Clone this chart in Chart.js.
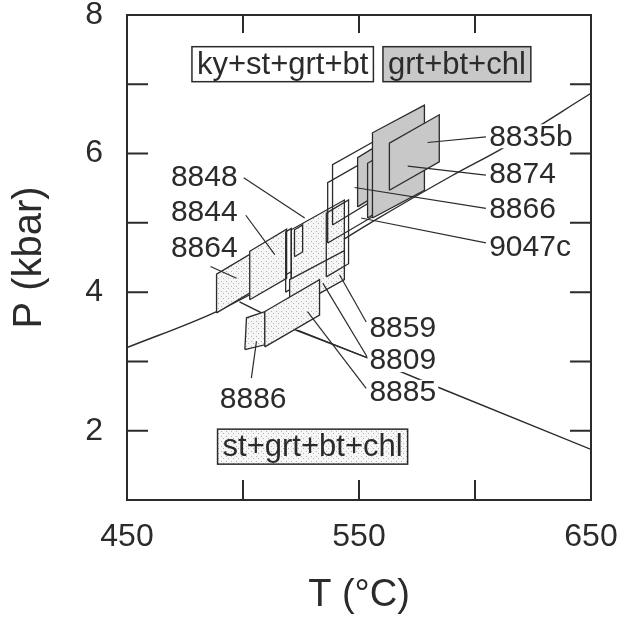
<!DOCTYPE html>
<html>
<head>
<meta charset="utf-8">
<script src="https://cdn.jsdelivr.net/npm/chart.js@4/dist/chart.umd.min.js"></script>
<style>
  html, body { margin: 0; padding: 0; background: #fff; }
</style>
</head>
<body>
<canvas id="pt" width="637" height="620"></canvas>
<script>
// ---- axes ----
const tTickLabels = [450, 550, 650];
const pTickLabels = [2, 4, 6, 8];
const tTickMarks = [500, 550, 600];
const pTickMarks = [2, 3, 4, 5, 6, 7];

// ---- reaction curves (T in C, P in kbar) ----
const riseT = [450, 488.6, 520, 556, 590, 612, 650];
const riseP = [3.2, 3.72, 4.28, 5.02, 5.68, 6.08, 6.87];
const fallT = [498.5, 523, 553.7, 584.6, 650];
const fallP = [3.86, 3.45, 3.05, 2.62, 1.73];

// ---- sample P-T boxes: corners bottom-left, bottom-right, top-right, top-left ----
const boxNames = ["8864", "8844", "8848", "n1", "n2", "8859", "8886", "8885",
                  "m", "9047c", "8866", "a", "b", "8874", "8835b"];
const boxT = [
  [488.6, 508.1, 508.1, 488.6],
  [502.9, 518.8, 518.8, 502.9],
  [520.8, 543.7, 543.7, 520.8],
  [518.4, 520.8, 520.8, 518.4],
  [522.2, 525.7, 525.7, 522.2],
  [520.1, 543.7, 543.7, 520.1],
  [500.8, 509.4, 509.4, 501.5],
  [509.4, 533.0, 533.0, 509.4],
  [535.9, 545.5, 545.5, 535.9],
  [536.5, 561.0, 561.0, 536.5],
  [538.6, 563.1, 563.1, 538.6],
  [549.4, 561.0, 561.0, 549.4],
  [553.7, 563.1, 563.1, 553.7],
  [555.8, 578.2, 578.2, 555.8],
  [563.1, 584.6, 584.6, 563.1]
];
const boxP = [
  [3.70, 4.09, 4.65, 4.26],
  [3.89, 4.20, 4.91, 4.59],
  [3.99, 4.36, 5.33, 4.90],
  [4.00, 4.05, 4.92, 4.87],
  [4.51, 4.58, 4.97, 4.90],
  [3.74, 4.18, 4.60, 4.18],
  [3.17, 3.24, 3.72, 3.63],
  [3.21, 3.67, 4.18, 3.72],
  [4.22, 4.41, 5.33, 5.14],
  [4.71, 5.19, 6.05, 5.58],
  [4.97, 5.47, 6.30, 5.84],
  [5.23, 5.47, 6.18, 5.94],
  [5.07, 5.26, 6.05, 5.86],
  [5.07, 5.47, 6.70, 6.30],
  [5.47, 5.88, 6.56, 6.15]
];

// ---- sample labels and leader lines ----
const sampleText = ["8848", "8844", "8864", "8886", "8859", "8809", "8885",
                    "8835b", "8874", "8866", "9047c"];
const leaderFromT = [500.3, 501.2, 486.0, 503.6, 553.1, 553.8, 553.8, 553.1, 604.7, 604.7, 604.7, 604.7];
const leaderFromP = [5.65, 5.11, 4.37, 2.76, 3.57, 3.05, 3.05, 2.61, 6.24, 5.69, 5.21, 4.71];
const leaderToT = [526.6, 513.7, 497.2, 505.8, 541.6, 534.4, 523.7, 527.8, 579.6, 571.0, 548.1, 550.9];
const leaderToP = [5.07, 4.54, 4.20, 3.29, 4.25, 4.13, 3.45, 3.72, 6.16, 5.82, 5.51, 5.07];

// ---- assemblage fields ----
const fieldText = ["ky+st+grt+bt", "grt+bt+chl", "st+grt+bt+chl"];

// =====================================================================

const INK = "#2b2b2b";
const FONT = "'Liberation Sans', Arial, Helvetica, sans-serif";
const DARK = "#c8c8c8";

function makeStipple() {
    const c = document.createElement("canvas");
    c.width = 5; c.height = 5;
    const g = c.getContext("2d");
    g.fillStyle = "#f6f6f6";
    g.fillRect(0, 0, 5, 5);
    g.fillStyle = "#b4b4b4";
    g.fillRect(1, 1, 1, 1);
    g.fillRect(3, 3, 1, 1);
    return g.createPattern(c, "repeat");
}
const STIP = makeStipple();

const darkBoxes = ["a", "b", "8874", "8835b"];
const openBoxes = ["9047c", "8866", "n1", "n2", "m"];

const toPts = (T, P) => T.map((t, i) => ({ x: t, y: P[i] }));

const datasets = [];

datasets.push({
    data: toPts(riseT, riseP), showLine: true, borderColor: INK, borderWidth: 1.4,
    pointRadius: 0, fill: false, cubicInterpolationMode: "monotone"
});
datasets.push({
    data: toPts(fallT, fallP), showLine: true, borderColor: INK, borderWidth: 1.4,
    pointRadius: 0, fill: false, tension: 0
});

boxNames.forEach((name, i) => {
    const T = boxT[i].concat(boxT[i][0]);
    const P = boxP[i].concat(boxP[i][0]);
    let bg = STIP, fill = "shape";
    if (darkBoxes.includes(name)) bg = DARK;
    if (openBoxes.includes(name)) { bg = "rgba(0,0,0,0)"; fill = false; }
    datasets.push({
        data: toPts(T, P), showLine: true, borderColor: INK, borderWidth: 1.3,
        pointRadius: 0, tension: 0, fill: fill, backgroundColor: bg
    });
});

leaderFromT.forEach((t, i) => {
    datasets.push({
        data: [{ x: t, y: leaderFromP[i] }, { x: leaderToT[i], y: leaderToP[i] }],
        showLine: true, borderColor: INK, borderWidth: 1.2, pointRadius: 0, fill: false
    });
});

// later datasets on top
datasets.forEach((d, i) => { d.order = datasets.length - i; });

// label placement (data units); align tells which side the anchor is
const sampleSpots = [
    { t: 497.7, p: 5.66, align: "right" },
    { t: 497.7, p: 5.16, align: "right" },
    { t: 497.7, p: 4.64, align: "right" },
    { t: 490.0, p: 2.46, align: "left" },
    { t: 554.5, p: 3.49, align: "left" },
    { t: 554.5, p: 3.02, align: "left" },
    { t: 554.5, p: 2.56, align: "left" },
    { t: 606.1, p: 6.25, align: "left" },
    { t: 606.1, p: 5.71, align: "left" },
    { t: 606.1, p: 5.20, align: "left" },
    { t: 606.1, p: 4.66, align: "left" }
];
const fieldSpots = [
    { t: 517.1, p: 7.29, bg: "#fff" },
    { t: 592.2, p: 7.29, bg: DARK },
    { t: 530.0, p: 1.77, bg: STIP }
];

const ptPlugin = {
    id: "ptDecor",
    afterDatasetsDraw(chart) {
        const { ctx, scales: { x, y } } = chart;
        ctx.save();
        ctx.font = "30px " + FONT;
        ctx.textBaseline = "middle";

        sampleText.forEach((txt, i) => {
            const s = sampleSpots[i];
            const px = x.getPixelForValue(s.t), py = y.getPixelForValue(s.p);
            const w = ctx.measureText(txt).width;
            const left = s.align === "right" ? px - w : px;
            ctx.fillStyle = "#fff";
            ctx.fillRect(left - 2, py - 12, w + 4, 24);
            ctx.fillStyle = INK;
            ctx.fillText(txt, left, py + 1);
        });

        ctx.font = "31px " + FONT;
        fieldText.forEach((txt, i) => {
            const s = fieldSpots[i];
            const px = x.getPixelForValue(s.t), py = y.getPixelForValue(s.p);
            const w = ctx.measureText(txt).width;
            const bw = w + 10, bh = 35;
            ctx.fillStyle = s.bg;
            ctx.fillRect(px - bw / 2, py - bh / 2, bw, bh);
            ctx.strokeStyle = INK;
            ctx.lineWidth = 1.5;
            ctx.strokeRect(px - bw / 2, py - bh / 2, bw, bh);
            ctx.fillStyle = INK;
            ctx.textAlign = "center";
            ctx.fillText(txt, px, py + 1);
            ctx.textAlign = "left";
        });
        ctx.restore();
    },
    afterDraw(chart) {
        const { ctx, chartArea: a, scales: { x, y } } = chart;
        ctx.save();
        ctx.strokeStyle = INK;
        ctx.lineWidth = 2;
        ctx.strokeRect(a.left, a.top, a.right - a.left, a.bottom - a.top);
        ctx.beginPath();
        tTickMarks.forEach(t => {
            const px = x.getPixelForValue(t);
            ctx.moveTo(px, a.bottom); ctx.lineTo(px, a.bottom - 20);
            ctx.moveTo(px, a.top); ctx.lineTo(px, a.top + 18);
        });
        pTickMarks.forEach(p => {
            const py = y.getPixelForValue(p);
            ctx.moveTo(a.left, py); ctx.lineTo(a.left + 21, py);
            ctx.moveTo(a.right, py); ctx.lineTo(a.right - 21, py);
        });
        ctx.stroke();
        ctx.restore();
    }
};

new Chart(document.getElementById("pt"), {
    type: "scatter",
    data: { datasets: datasets },
    options: {
        responsive: false,
        animation: false,
        layout: { padding: { top: 15, right: 46, left: 0, bottom: 0 } },
        plugins: { legend: { display: false }, tooltip: { enabled: false } },
        scales: {
            x: {
                type: "linear", min: 450, max: 650,
                afterFit(s) { s.height = 120; s.paddingLeft = 0; s.paddingRight = 0; },
                afterBuildTicks(s) { s.ticks = tTickLabels.map(v => ({ value: v })); },
                grid: { display: false, drawTicks: false },
                border: { display: false },
                ticks: { padding: 18, color: INK, font: { size: 32, family: FONT }, maxRotation: 0, autoSkip: false },
                title: { display: true, text: "T (\u00B0C)", color: INK, font: { size: 38, family: FONT }, padding: { top: 0, bottom: 2 } }
            },
            y: {
                type: "linear", min: 1, max: 8,
                afterFit(s) { s.width = 127; s.paddingTop = 0; s.paddingBottom = 0; },
                afterBuildTicks(s) { s.ticks = pTickLabels.map(v => ({ value: v })); },
                grid: { display: false, drawTicks: false },
                border: { display: false },
                ticks: { padding: 24, color: INK, font: { size: 32, family: FONT }, autoSkip: false },
                title: { display: true, text: "P (kbar)", color: INK, font: { size: 40, family: FONT }, padding: { top: 6, bottom: 0 } }
            }
        }
    },
    plugins: [ptPlugin]
});
</script>
</body>
</html>
